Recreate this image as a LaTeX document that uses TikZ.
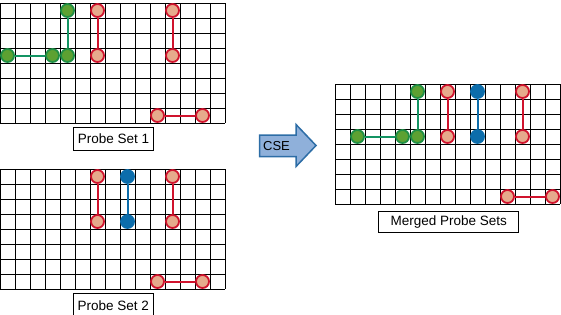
\documentclass[tikz,border=0pt]{standalone}
\usepackage{fontspec}
\setmainfont{Liberation Sans}
\definecolor{gfill}{HTML}{5DA132}
\definecolor{gdraw}{HTML}{1F8F45}
\definecolor{gline}{HTML}{139463}
\definecolor{rfill}{HTML}{E6AA8C}
\definecolor{rdraw}{HTML}{D0132D}
\definecolor{bcol}{HTML}{0C6DAB}
\definecolor{afill}{HTML}{8FB0DA}
\definecolor{adraw}{HTML}{2D6DA6}
\tikzset{
  gridlines/.style={draw=black,line width=1pt},
  gp/.style={circle,fill=gfill,draw=gdraw,line width=1.8pt,minimum size=13pt,inner sep=0pt},
  rp/.style={circle,fill=rfill,draw=rdraw,line width=1.8pt,minimum size=13pt,inner sep=0pt},
  bp/.style={circle,fill=bcol,draw=bcol,line width=1.8pt,minimum size=13pt,inner sep=0pt},
  gl/.style={draw=gline,line width=2pt},
  rl/.style={draw=rdraw,line width=2pt},
  bl/.style={draw=bcol,line width=2pt},
  lbl/.style={draw=black,line width=1pt,fill=white,inner sep=0pt,font=\fontsize{13.5}{15}\selectfont},
}
\newcommand\probegrid{%
  \foreach \i in {0,...,15} {\draw[gridlines] (\i*15,0) -- (\i*15,120);}
  \foreach \j in {0,...,8} {\draw[gridlines] (0,\j*15) -- (225,\j*15);}
}
\begin{document}
\begin{tikzpicture}[x=1pt,y=-1pt]
\useasboundingbox (0,0) rectangle (561,314);
% ---------- Probe Set 1 ----------
\begin{scope}[shift={(0,3)}]
  \probegrid
  \node[gp] (a1) at (7.5,52.5) {};
  \node[gp] (a2) at (52.5,52.5) {};
  \node[gp] (a3) at (67.5,52.5) {};
  \node[gp] (a4) at (67.5,7.5) {};
  \node[rp] (a5) at (97.5,7.5) {};
  \node[rp] (a6) at (97.5,52.5) {};
  \node[rp] (a7) at (172.5,7.5) {};
  \node[rp] (a8) at (172.5,52.5) {};
  \node[rp] (a9) at (157.5,112.5) {};
  \node[rp] (a10) at (202.5,112.5) {};
  \draw[gl] (a1) -- (a2);
  \draw[gl] (a4) -- (a3);
  \draw[rl] (a5) -- (a6);
  \draw[rl] (a7) -- (a8);
  \draw[rl] (a9) -- (a10);
\end{scope}
\node[lbl,minimum width=80.5pt,minimum height=23pt,anchor=north west] (l1) at (72.7,126.7) {Probe Set 1};
% ---------- Probe Set 2 ----------
\begin{scope}[shift={(0,169)}]
  \probegrid
  \node[rp] (b1) at (97.5,7.5) {};
  \node[rp] (b2) at (97.5,52.5) {};
  \node[bp] (b3) at (127.5,7.5) {};
  \node[bp] (b4) at (127.5,52.5) {};
  \node[rp] (b5) at (172.5,7.5) {};
  \node[rp] (b6) at (172.5,52.5) {};
  \node[rp] (b7) at (157.5,112.5) {};
  \node[rp] (b8) at (202.5,112.5) {};
  \draw[rl] (b1) -- (b2);
  \draw[bl] (b3) -- (b4);
  \draw[rl] (b5) -- (b6);
  \draw[rl] (b7) -- (b8);
\end{scope}
\node[lbl,minimum width=80pt,minimum height=26pt,anchor=north west] (l2) at (72.7,292.5) {\raisebox{-3pt}{Probe Set 2}};
% ---------- Arrow ----------
\draw[fill=afill,draw=adraw,line width=1.5pt,line join=miter]
  (259.5,135) -- (296,135) -- (296,124.5) -- (316,145.5) -- (296,166.5) -- (296,156.5) -- (259.5,156.5) -- cycle;
\node[inner sep=0pt,font=\fontsize{13}{15}\selectfont] (arr) at (276.5,146) {CSE};
% ---------- Merged ----------
\begin{scope}[shift={(335,84)}]
  \probegrid
  \node[gp] (m1) at (22.5,52.5) {};
  \node[gp] (m2) at (67.5,52.5) {};
  \node[gp] (m3) at (82.5,52.5) {};
  \node[gp] (m4) at (82.5,7.5) {};
  \node[rp] (m5) at (112.5,7.5) {};
  \node[rp] (m6) at (112.5,52.5) {};
  \node[bp] (m7) at (142.5,7.5) {};
  \node[bp] (m8) at (142.5,52.5) {};
  \node[rp] (m9) at (187.5,7.5) {};
  \node[rp] (m10) at (187.5,52.5) {};
  \node[rp] (m11) at (172.5,112.5) {};
  \node[rp] (m12) at (217.5,112.5) {};
  \draw[gl] (m1) -- (m2);
  \draw[gl] (m4) -- (m3);
  \draw[rl] (m5) -- (m6);
  \draw[bl] (m7) -- (m8);
  \draw[rl] (m9) -- (m10);
  \draw[rl] (m11) -- (m12);
\end{scope}
\node[lbl,minimum width=140pt,minimum height=21pt,anchor=north west] (l3) at (378.3,211) {Merged Probe Sets};
\end{tikzpicture}
\end{document}
